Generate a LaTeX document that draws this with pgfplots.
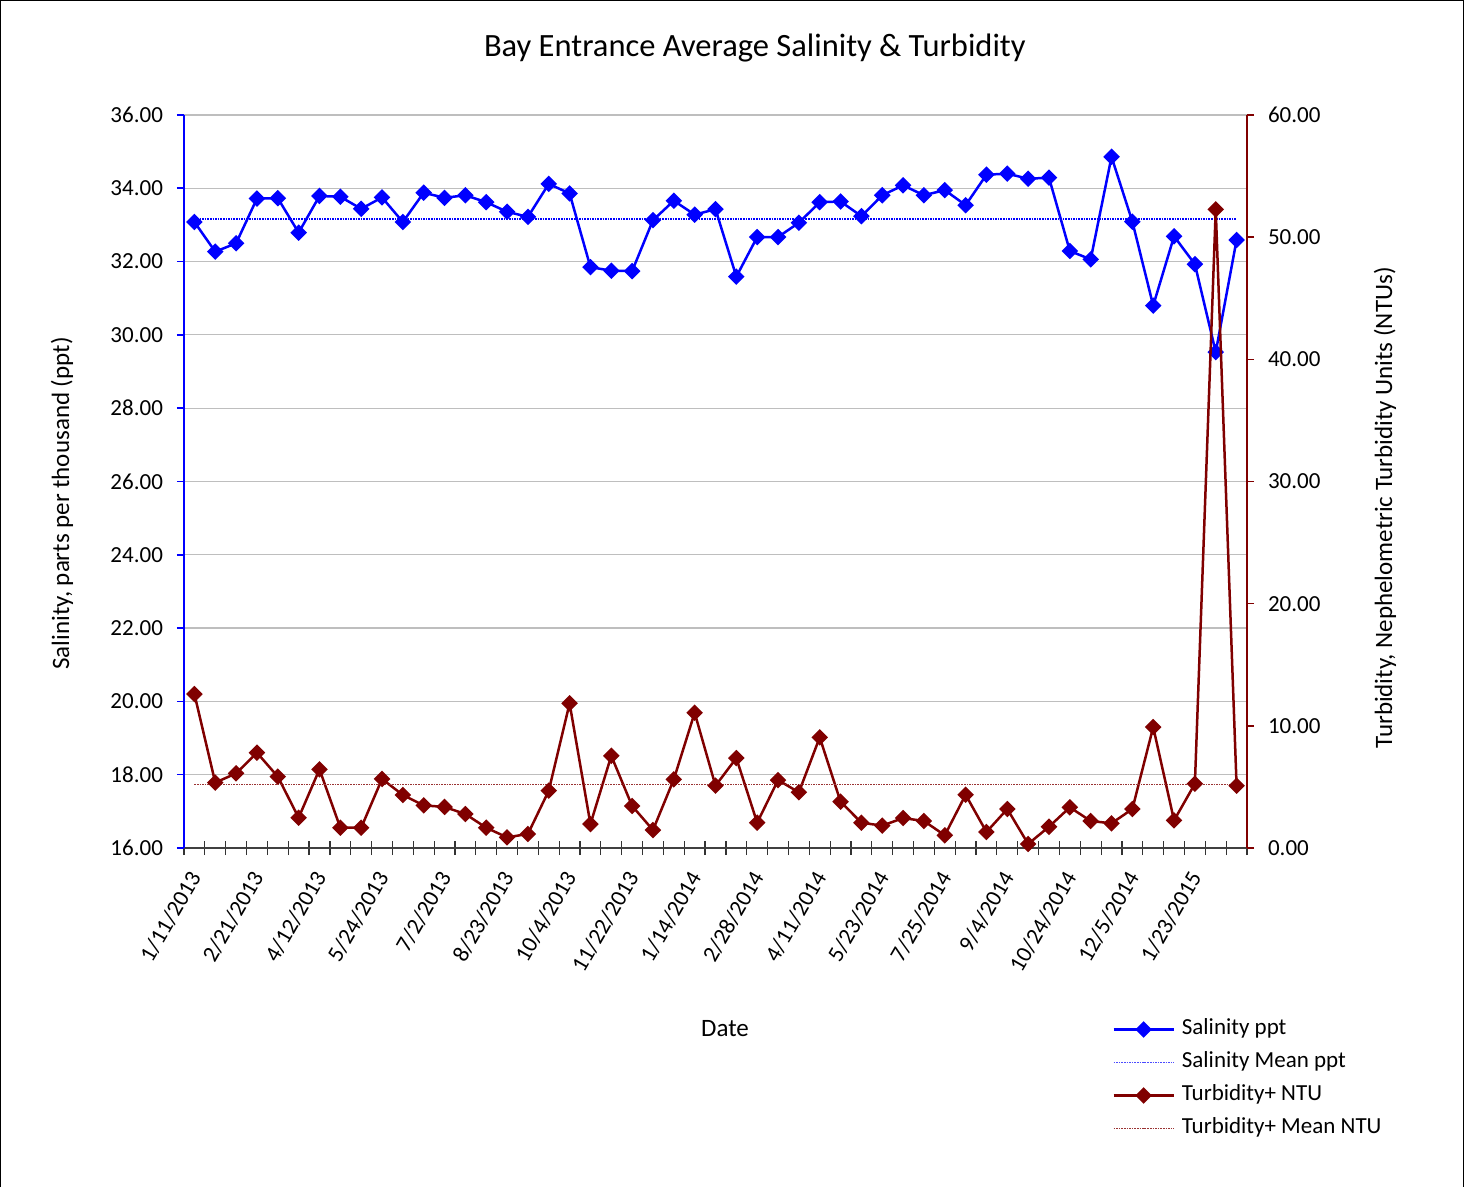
\documentclass[border=0pt]{standalone}
\usepackage{fontspec}
\setmainfont{Carlito}
\usepackage{pgfplots}
\usepackage{pgfplotstable}
\pgfplotsset{compat=1.18}

\definecolor{salblue}{RGB}{0,0,255}
\definecolor{turbred}{RGB}{128,0,0}
\definecolor{gridgray}{RGB}{190,190,190}

% sample index, salinity (ppt), turbidity (NTU)
\pgfplotstableread{
idx sal turb
0 33.08 12.60
1 32.27 5.35
2 32.50 6.11
3 33.72 7.80
4 33.73 5.84
5 32.79 2.48
6 33.79 6.44
7 33.77 1.66
8 33.44 1.66
9 33.75 5.65
10 33.08 4.34
11 33.88 3.49
12 33.74 3.36
13 33.81 2.78
14 33.62 1.66
15 33.36 0.87
16 33.22 1.15
17 34.12 4.69
18 33.86 11.84
19 31.85 1.96
20 31.75 7.55
21 31.74 3.44
22 33.13 1.47
23 33.66 5.62
24 33.28 11.07
25 33.43 5.10
26 31.59 7.36
27 32.67 2.07
28 32.67 5.56
29 33.06 4.56
30 33.62 9.06
31 33.64 3.79
32 33.24 2.07
33 33.81 1.83
34 34.08 2.45
35 33.81 2.21
36 33.95 1.04
37 33.54 4.36
38 34.37 1.31
39 34.40 3.19
40 34.26 0.33
41 34.29 1.74
42 32.29 3.33
43 32.06 2.21
44 34.86 2.02
45 33.09 3.19
46 30.80 9.90
47 32.69 2.26
48 31.93 5.26
49 29.53 52.27
50 32.59 5.10
}\bayData

\pgfplotsset{
  bay/.style={
    scale only axis,
    width=531.5pt, height=366.5pt,
    xmin=-0.5, xmax=50.5,
    tick align=outside,
    major tick length=3.5pt,
    /pgf/number format/assume math mode=true,
    yticklabel={\pgfmathprintnumber[fixed,fixed zerofill,precision=2]{\tick}},
    tick label style={font=\fontsize{11.5}{13}\selectfont},
    label style={font=\fontsize{12.5}{14}\selectfont},
  },
  salmark/.style={mark=square*, mark size=2.3pt, mark options={rotate=45, solid}},
  legend image code/.code={
    \draw[mark repeat=2, mark phase=2, #1] plot coordinates {(0pt,0pt) (15pt,0pt) (30pt,0pt)};
  },
}

\begin{document}
\begin{tikzpicture}
\useasboundingbox (-92pt,-169.5pt) rectangle (640.5pt,424pt);
\draw[black, line width=0.6pt] (-91.7pt,-169.5pt) -- (-91.7pt,423.7pt) -- (639.6pt,423.7pt) -- (639.6pt,-169.5pt);

% salinity, left axis
\begin{axis}[bay,
  ymin=16, ymax=36, ytick={16,18,...,36},
  axis y line*=left, axis x line*=bottom,
  y axis line style={salblue, line width=1pt},
  x axis line style={black!75, line width=1.2pt},
  ytick style={salblue, line width=0.8pt},
  ymajorgrids, grid style={gridgray, line width=0.6pt},
  xtick={0,3,...,48},
  xticklabels={1/11/2013, 2/21/2013, 4/12/2013, 5/24/2013, 7/2/2013, 8/23/2013,
    10/4/2013, 11/22/2013, 1/14/2014, 2/28/2014, 4/11/2014, 5/23/2014,
    7/25/2014, 9/4/2014, 10/24/2014, 12/5/2014, 1/23/2015},
  major x tick style={draw=none},
  minor xtick={-0.5,0.5,...,50.5},
  minor tick length=7pt,
  minor x tick style={black!80, line width=0.6pt, yshift=3.5pt},
  xticklabel style={rotate=60, anchor=east, xshift=-4.25pt, yshift=-5pt},
  yticklabel style={xshift=-3.5pt},
  title={Bay Entrance Average Salinity \& Turbidity},
  title style={at={(axis description cs:0.537,1.075)}, anchor=center, font=\fontsize{16.25}{19}\selectfont},
  xlabel={Date},
  xlabel style={at={(axis description cs:0.509,-0.247)}, anchor=center},
  ylabel={Salinity, parts per thousand (ppt)},
  ylabel style={at={(axis description cs:-0.1148,0.470)}, anchor=center},
]
\addplot[salblue, line width=1.25pt, salmark] table[x=idx, y=sal] {\bayData};
\addplot[salblue, line width=0.6pt, dash pattern=on 0.8pt off 0.5pt] coordinates {(0,33.16) (50,33.16)};
\end{axis}

% turbidity, right axis
\begin{axis}[bay,
  ymin=0, ymax=60, ytick={0,10,...,60},
  axis y line*=right, axis x line=none,
  y axis line style={turbred, line width=1pt},
  ytick style={turbred, line width=0.8pt},
  yticklabel style={xshift=3.5pt},
  ylabel={Turbidity, Nephelometric Turbidity Units (NTUs)},
  ylabel style={at={(axis description cs:1.1298,0.464)}, anchor=center},
  legend style={at={(axis description cs:0.873,-0.230)}, anchor=north west,
    draw=none, fill=none, inner sep=0pt,
    font=\fontsize{11.5}{13}\selectfont,
    nodes={inner sep=1pt, text height=8pt, text depth=2.5pt},
    row sep=4pt, column sep=2.5pt},
  legend cell align=left,
]
\addlegendimage{salblue, line width=1.25pt, salmark}
\addlegendentry{Salinity ppt}
\addlegendimage{salblue!70, line width=0.6pt, dash pattern=on 0.8pt off 0.5pt}
\addlegendentry{Salinity Mean ppt}
\addplot[turbred, line width=1.25pt, salmark] table[x=idx, y=turb] {\bayData};
\addlegendentry{Turbidity+ NTU}
\addplot[turbred!80, line width=0.6pt, dash pattern=on 0.8pt off 0.5pt] coordinates {(0,5.18) (50,5.18)};
\addlegendentry{Turbidity+ Mean NTU}
\end{axis}
\end{tikzpicture}
\end{document}
